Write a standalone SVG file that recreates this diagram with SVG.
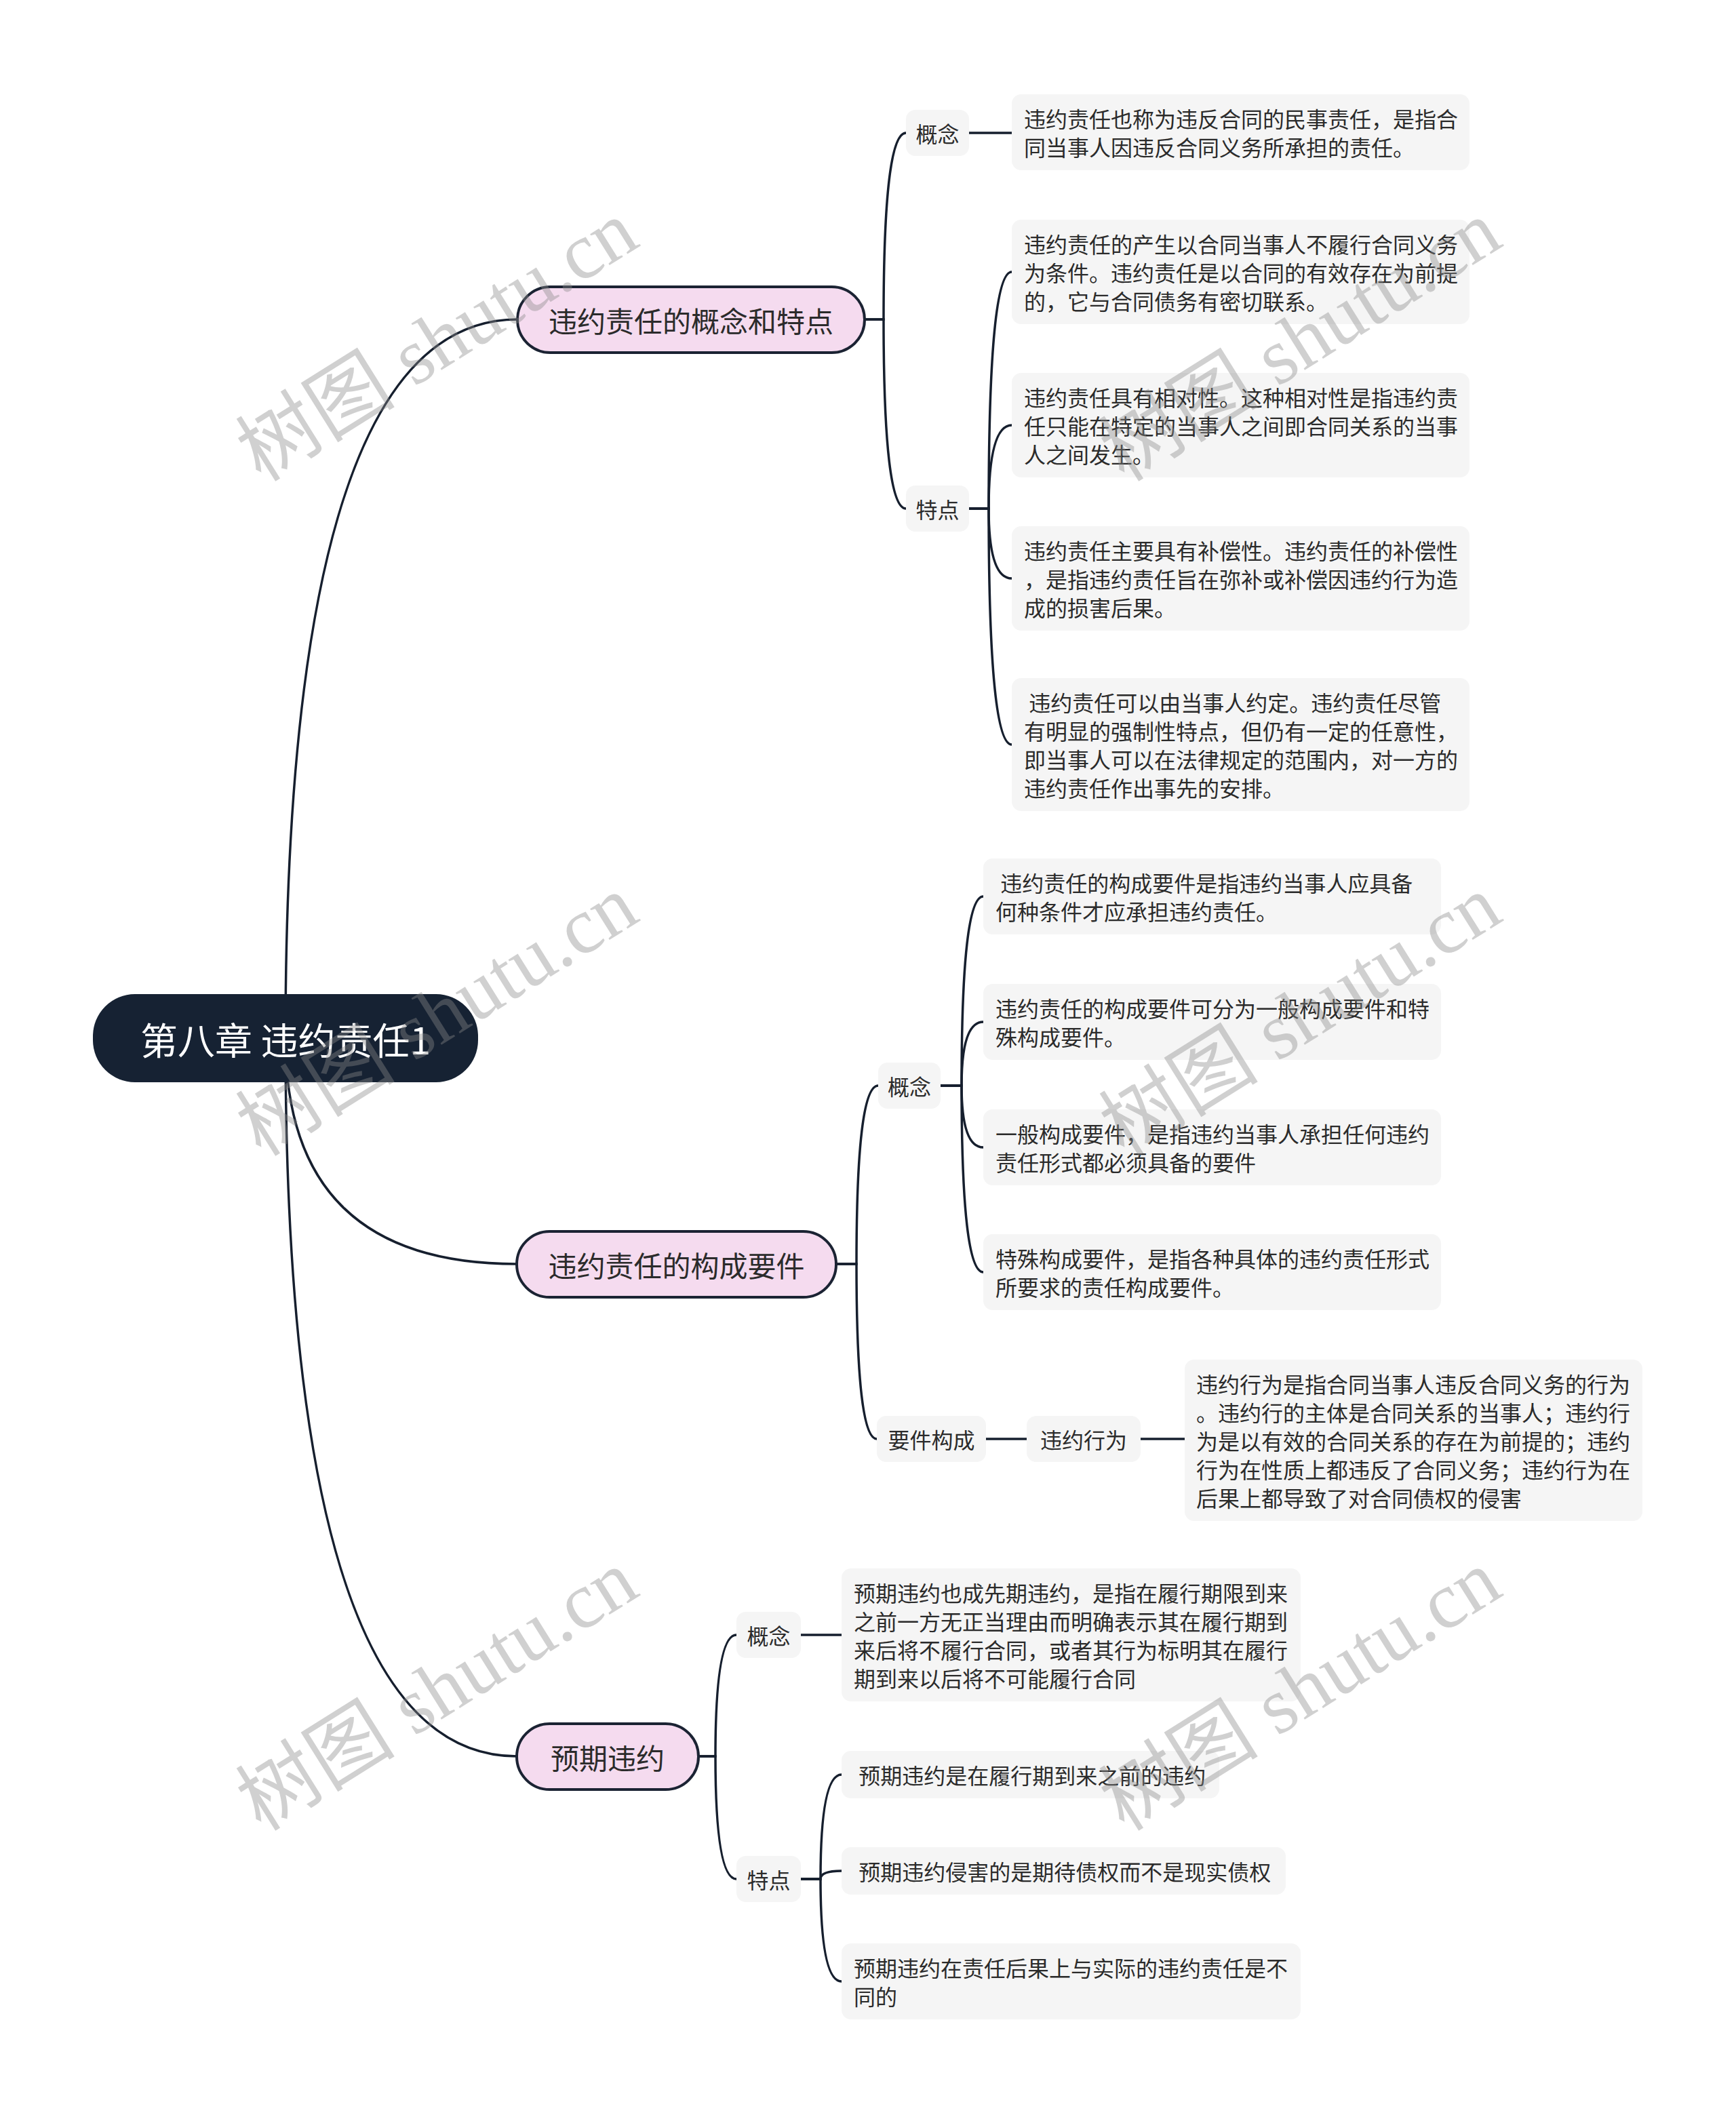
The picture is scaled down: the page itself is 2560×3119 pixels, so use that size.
<svg xmlns="http://www.w3.org/2000/svg" width="2560" height="3119" viewBox="0 0 2560 3119">
<style>
text{font-family:"Noto Sans CJK SC","Noto Sans",sans-serif;}
.conn path{fill:none;stroke:#161f2e;stroke-width:3.5;stroke-linecap:round;}
.root rect{fill:#162233;}
.root text{fill:#ffffff;font-size:55px;}
.br rect{fill:#f5dbef;stroke:#1b2333;stroke-width:4;}
.br text{fill:#2b2b2b;font-size:42px;}
.lb rect{fill:#f5f5f5;}
.lb text{fill:#2b2b2b;font-size:32px;}
.lf rect{fill:#f5f5f5;}
.lf text{fill:#2b2b2b;font-size:32px;}
.wm{font-family:"Liberation Serif","Noto Sans CJK SC",serif;font-size:118px;fill:#8a8a8a;fill-opacity:0.4;}
</style>
<rect width="2560" height="3119" fill="#ffffff"/>

<g id="connectors" class="conn">
<path d="M421 1531 Q421 471 763 471"/>
<path d="M421 1531 Q421 1864 762 1864"/>
<path d="M421 1531 Q421 2590 762 2590"/>
<path d="M1275 471 L1303 471 Q1303 196 1336 196"/>
<path d="M1275 471 L1303 471 Q1303 750 1336 750"/>
<path d="M1429 196 L1492 196"/>
<path d="M1429 750 L1458 750 Q1458 401 1492 401"/>
<path d="M1429 750 L1458 750 Q1458 627 1492 627"/>
<path d="M1429 750 L1458 750 Q1458 853 1492 853"/>
<path d="M1429 750 L1458 750 Q1458 1098 1492 1098"/>
<path d="M1233 1864 L1263 1864 Q1263 1601 1295 1601"/>
<path d="M1233 1864 L1263 1864 Q1263 2122 1293 2122"/>
<path d="M1387 1601 L1418 1601 Q1418 1322 1450 1322"/>
<path d="M1387 1601 L1418 1601 Q1418 1507 1450 1507"/>
<path d="M1387 1601 L1418 1601 Q1418 1692 1450 1692"/>
<path d="M1387 1601 L1418 1601 Q1418 1876 1450 1876"/>
<path d="M1454 2122 L1514 2122"/>
<path d="M1682 2122 L1747 2122"/>
<path d="M1030 2590 L1055 2590 Q1055 2411 1086 2411"/>
<path d="M1030 2590 L1055 2590 Q1055 2771 1086 2771"/>
<path d="M1181 2411 L1241 2411"/>
<path d="M1181 2771 L1210 2771 Q1210 2617 1241 2617"/>
<path d="M1181 2771 L1210 2771 Q1210 2759 1241 2759"/>
<path d="M1181 2771 L1210 2771 Q1210 2922 1241 2922"/>
</g>

<g id="root" class="root">
<rect x="137" y="1466" width="568" height="130" rx="62"/>
<text x="421" y="1531" text-anchor="middle" dominant-baseline="central">第八章 违约责任1</text>
</g>

<g id="b1" class="br">
<rect x="763" y="423" width="512" height="97" rx="48.5"/>
<text x="1019" y="471.5" text-anchor="middle" dominant-baseline="central">违约责任的概念和特点</text>
</g>
<g id="b2" class="br">
<rect x="762" y="1816" width="471" height="97" rx="48.5"/>
<text x="997.5" y="1864.5" text-anchor="middle" dominant-baseline="central">违约责任的构成要件</text>
</g>
<g id="b3" class="br">
<rect x="762" y="2542" width="268" height="97" rx="48.5"/>
<text x="896" y="2590.5" text-anchor="middle" dominant-baseline="central">预期违约</text>
</g>

<g id="b1-gn" class="lb">
<rect x="1336" y="162" width="93" height="68" rx="14"/>
<text x="1382.5" y="196" text-anchor="middle" dominant-baseline="central">概念</text>
</g>
<g id="b1-gn-1" class="lf">
<rect x="1492" y="139" width="675" height="112" rx="14"/>
<text x="1510" dominant-baseline="central"><tspan x="1510" y="174">违约责任也称为违反合同的民事责任，是指合</tspan><tspan x="1510" y="216">同当事人因违反合同义务所承担的责任。</tspan></text>
</g>
<g id="b1-td" class="lb">
<rect x="1336" y="716" width="93" height="68" rx="14"/>
<text x="1382.5" y="750" text-anchor="middle" dominant-baseline="central">特点</text>
</g>
<g id="b1-td-1" class="lf">
<rect x="1492" y="324" width="675" height="154" rx="14"/>
<text dominant-baseline="central"><tspan x="1510" y="359">违约责任的产生以合同当事人不履行合同义务</tspan><tspan x="1510" y="401">为条件。违约责任是以合同的有效存在为前提</tspan><tspan x="1510" y="443">的，它与合同债务有密切联系。</tspan></text>
</g>
<g id="b1-td-2" class="lf">
<rect x="1492" y="550" width="675" height="154" rx="14"/>
<text dominant-baseline="central"><tspan x="1510" y="585">违约责任具有相对性。这种相对性是指违约责</tspan><tspan x="1510" y="627">任只能在特定的当事人之间即合同关系的当事</tspan><tspan x="1510" y="669">人之间发生。</tspan></text>
</g>
<g id="b1-td-3" class="lf">
<rect x="1492" y="776" width="675" height="154" rx="14"/>
<text dominant-baseline="central"><tspan x="1510" y="811">违约责任主要具有补偿性。违约责任的补偿性</tspan><tspan x="1510" y="853">，是指违约责任旨在弥补或补偿因违约行为造</tspan><tspan x="1510" y="895">成的损害后果。</tspan></text>
</g>
<g id="b1-td-4" class="lf">
<rect x="1492" y="1000" width="675" height="196" rx="14"/>
<text dominant-baseline="central" xml:space="preserve"><tspan x="1510" y="1035"> 违约责任可以由当事人约定。违约责任尽管</tspan><tspan x="1510" y="1077">有明显的强制性特点，但仍有一定的任意性，</tspan><tspan x="1510" y="1119">即当事人可以在法律规定的范围内，对一方的</tspan><tspan x="1510" y="1161">违约责任作出事先的安排。</tspan></text>
</g>

<g id="b2-gn" class="lb">
<rect x="1295" y="1567" width="92" height="68" rx="14"/>
<text x="1341" y="1601" text-anchor="middle" dominant-baseline="central">概念</text>
</g>
<g id="b2-gn-1" class="lf">
<rect x="1450" y="1266" width="675" height="112" rx="14"/>
<text dominant-baseline="central" xml:space="preserve"><tspan x="1468" y="1301"> 违约责任的构成要件是指违约当事人应具备</tspan><tspan x="1468" y="1343">何种条件才应承担违约责任。</tspan></text>
</g>
<g id="b2-gn-2" class="lf">
<rect x="1450" y="1451" width="675" height="112" rx="14"/>
<text dominant-baseline="central"><tspan x="1468" y="1486">违约责任的构成要件可分为一般构成要件和特</tspan><tspan x="1468" y="1528">殊构成要件。</tspan></text>
</g>
<g id="b2-gn-3" class="lf">
<rect x="1450" y="1636" width="675" height="112" rx="14"/>
<text dominant-baseline="central"><tspan x="1468" y="1671">一般构成要件，是指违约当事人承担任何违约</tspan><tspan x="1468" y="1713">责任形式都必须具备的要件</tspan></text>
</g>
<g id="b2-gn-4" class="lf">
<rect x="1450" y="1820" width="675" height="112" rx="14"/>
<text dominant-baseline="central"><tspan x="1468" y="1855">特殊构成要件，是指各种具体的违约责任形式</tspan><tspan x="1468" y="1897">所要求的责任构成要件。</tspan></text>
</g>
<g id="b2-yj" class="lb">
<rect x="1293" y="2088" width="161" height="68" rx="14"/>
<text x="1373.5" y="2122" text-anchor="middle" dominant-baseline="central">要件构成</text>
</g>
<g id="b2-yj-wy" class="lb">
<rect x="1514" y="2088" width="168" height="68" rx="14"/>
<text x="1598" y="2122" text-anchor="middle" dominant-baseline="central">违约行为</text>
</g>
<g id="b2-yj-wy-1" class="lf">
<rect x="1747" y="2005" width="675" height="238" rx="14"/>
<text dominant-baseline="central"><tspan x="1764" y="2040">违约行为是指合同当事人违反合同义务的行为</tspan><tspan x="1764" y="2082">。违约行的主体是合同关系的当事人；违约行</tspan><tspan x="1764" y="2124">为是以有效的合同关系的存在为前提的；违约</tspan><tspan x="1764" y="2166">行为在性质上都违反了合同义务；违约行为在</tspan><tspan x="1764" y="2208">后果上都导致了对合同债权的侵害</tspan></text>
</g>

<g id="b3-gn" class="lb">
<rect x="1086" y="2377" width="95" height="68" rx="14"/>
<text x="1133.5" y="2411" text-anchor="middle" dominant-baseline="central">概念</text>
</g>
<g id="b3-gn-1" class="lf">
<rect x="1241" y="2313" width="677" height="196" rx="14"/>
<text dominant-baseline="central"><tspan x="1259" y="2348">预期违约也成先期违约，是指在履行期限到来</tspan><tspan x="1259" y="2390">之前一方无正当理由而明确表示其在履行期到</tspan><tspan x="1259" y="2432">来后将不履行合同，或者其行为标明其在履行</tspan><tspan x="1259" y="2474">期到来以后将不可能履行合同</tspan></text>
</g>
<g id="b3-td" class="lb">
<rect x="1086" y="2737" width="95" height="68" rx="14"/>
<text x="1133.5" y="2771" text-anchor="middle" dominant-baseline="central">特点</text>
</g>
<g id="b3-td-1" class="lf">
<rect x="1241" y="2582" width="557" height="70" rx="14"/>
<text x="1259" y="2617" dominant-baseline="central" xml:space="preserve"> 预期违约是在履行期到来之前的违约</text>
</g>
<g id="b3-td-2" class="lf">
<rect x="1241" y="2724" width="655" height="70" rx="14"/>
<text x="1259" y="2759" dominant-baseline="central" xml:space="preserve"> 预期违约侵害的是期待债权而不是现实债权</text>
</g>
<g id="b3-td-3" class="lf">
<rect x="1241" y="2866" width="677" height="112" rx="14"/>
<text dominant-baseline="central"><tspan x="1259" y="2901">预期违约在责任后果上与实际的违约责任是不</tspan><tspan x="1259" y="2943">同的</tspan></text>
</g>

<g id="watermarks">
<text class="wm" transform="translate(385 712) rotate(-32)">树图 shutu.cn</text>
<text class="wm" transform="translate(385 1707) rotate(-32)">树图 shutu.cn</text>
<text class="wm" transform="translate(385 2702) rotate(-32)">树图 shutu.cn</text>
<text class="wm" transform="translate(1658 712) rotate(-32)">树图 shutu.cn</text>
<text class="wm" transform="translate(1658 1707) rotate(-32)">树图 shutu.cn</text>
<text class="wm" transform="translate(1658 2702) rotate(-32)">树图 shutu.cn</text>
</g>
</svg>
